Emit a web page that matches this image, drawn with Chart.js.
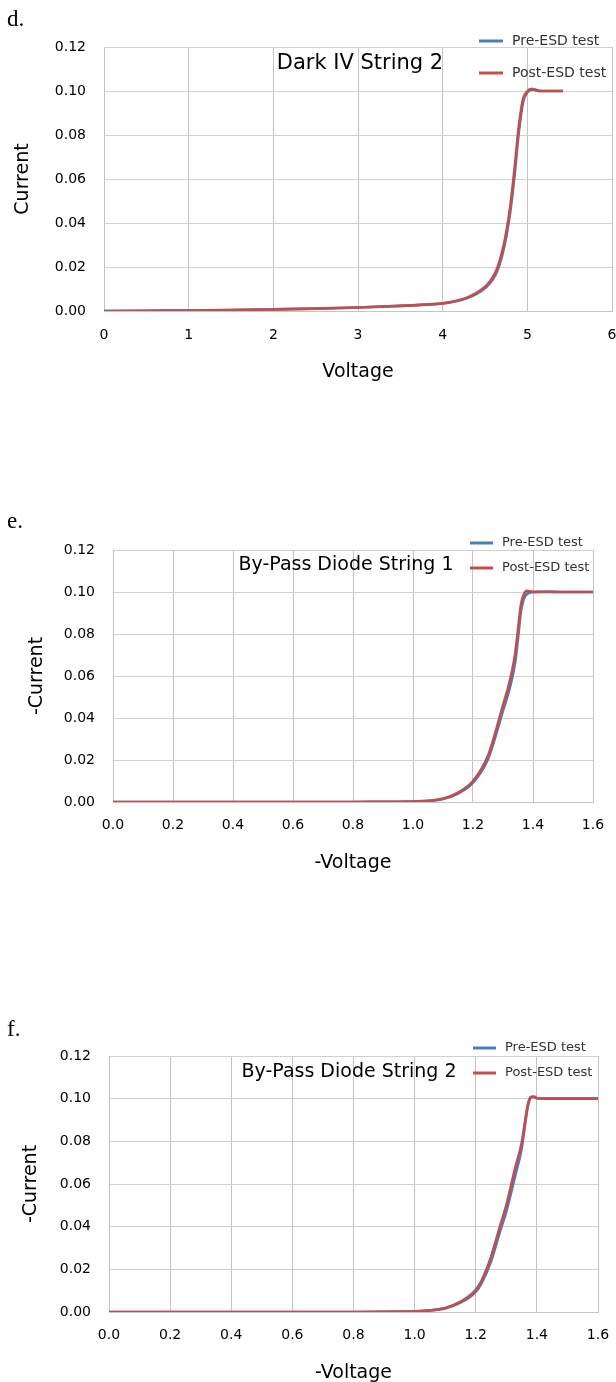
<!DOCTYPE html>
<html>
<head>
<meta charset="utf-8">
<script src="https://cdn.jsdelivr.net/npm/chart.js@4.4.1/dist/chart.umd.min.js"></script>
<style>
  body { margin: 0; background: #fff; width: 616px; height: 1382px; position: relative; overflow: hidden; }
  .panel { position: absolute; left: 0; width: 616px; }
  .tag { position: absolute; left: 7px; font-family: "Liberation Serif", serif; font-size: 23px; line-height: 24px; color: #000; }
  canvas { display: block; }
</style>
</head>
<body>
<div class="panel" style="top:0;height:400px"><canvas id="chartD" width="616" height="400"></canvas></div>
<div class="panel" style="top:500px;height:400px"><canvas id="chartE" width="616" height="400"></canvas></div>
<div class="panel" style="top:1010px;height:372px"><canvas id="chartF" width="616" height="372"></canvas></div>
<div class="tag" style="top:7px">d.</div>
<div class="tag" style="top:509px">e.</div>
<div class="tag" style="top:1017px">f.</div>
<script>
const seriesNames = ['Pre-ESD test', 'Post-ESD test'];
const yTickLabels = ['0.00', '0.02', '0.04', '0.06', '0.08', '0.10', '0.12'];
const xTickLabelsD = ['0', '1', '2', '3', '4', '5', '6'];
const xTickLabelsEF = ['0.0', '0.2', '0.4', '0.6', '0.8', '1.0', '1.2', '1.4', '1.6'];

// d. Dark IV String 2
const voltsD = [0, 0.5, 1, 1.5, 2, 2.5, 3, 3.5, 3.8, 4.0, 4.1, 4.2, 4.3, 4.4, 4.5, 4.55, 4.6, 4.65, 4.7, 4.75, 4.8, 4.85, 4.9, 4.95, 5.0, 5.05, 5.1, 5.15, 5.2, 5.3, 5.42];
const preD = [0, 0.0001, 0.0002, 0.0004, 0.0007, 0.0011, 0.0016, 0.0023, 0.0029, 0.0034, 0.0040, 0.0048, 0.0060, 0.0078, 0.0104, 0.0123, 0.0149, 0.0188, 0.0248, 0.0335, 0.0455, 0.0620, 0.0815, 0.0950, 0.0993, 0.1006, 0.1005, 0.1000, 0.1000, 0.1000, 0.1000];
const postD = [0, 0.0001, 0.0002, 0.0004, 0.0007, 0.0011, 0.0016, 0.0023, 0.0029, 0.0035, 0.0041, 0.0050, 0.0063, 0.0082, 0.0110, 0.0130, 0.0158, 0.0200, 0.0265, 0.0355, 0.0480, 0.0650, 0.0840, 0.0965, 0.0998, 0.1010, 0.1004, 0.1000, 0.1000, 0.1000, 0.1000];

// e. By-Pass Diode String 1
const voltsE = [0, 0.2, 0.4, 0.6, 0.8, 0.9, 1.0, 1.05, 1.1, 1.15, 1.2, 1.25, 1.3, 1.32, 1.34, 1.35, 1.36, 1.37, 1.38, 1.39, 1.4, 1.45, 1.5, 1.6];
const preE = [0, 0, 0, 0, 0, 0.0001, 0.0002, 0.0005, 0.0014, 0.0040, 0.0092, 0.0205, 0.0435, 0.0530, 0.0660, 0.0780, 0.0910, 0.0970, 0.0990, 0.0997, 0.1000, 0.1002, 0.1000, 0.1000];
const postE = [0, 0, 0, 0, 0, 0.0001, 0.0002, 0.0005, 0.0016, 0.0045, 0.0100, 0.0220, 0.0460, 0.0560, 0.0700, 0.0820, 0.0940, 0.0990, 0.1005, 0.1003, 0.1000, 0.1000, 0.1000, 0.1000];

// f. By-Pass Diode String 2
const voltsF = [0, 0.2, 0.4, 0.6, 0.8, 0.9, 1.0, 1.05, 1.1, 1.15, 1.2, 1.22, 1.25, 1.28, 1.3, 1.33, 1.35, 1.36, 1.37, 1.38, 1.39, 1.4, 1.42, 1.5, 1.6];
const preF = [0, 0, 0, 0, 0, 0.0001, 0.0003, 0.0007, 0.0017, 0.0044, 0.0095, 0.0138, 0.0238, 0.0380, 0.0472, 0.0645, 0.0765, 0.0865, 0.0960, 0.1005, 0.1009, 0.1002, 0.1000, 0.1000, 0.1000];
const postF = [0, 0, 0, 0, 0, 0.0001, 0.0003, 0.0008, 0.0019, 0.0048, 0.0104, 0.0150, 0.0258, 0.0405, 0.0500, 0.0680, 0.0790, 0.0880, 0.0970, 0.1008, 0.1010, 0.1002, 0.1000, 0.1000, 0.1000];

const preColor = '#4a7ebb';
const postColor = '#c0504d';
const font = '"DejaVu Sans", sans-serif';

// title and legend are drawn over the plot, like in the original figure
const notesPlugin = {
    id: 'notes',
    afterDraw(chart, args, opts) {
        const ctx = chart.ctx;
        ctx.save();
        ctx.fillStyle = '#000';
        ctx.font = opts.titleSize + 'px ' + font;
        ctx.textAlign = 'center';
        ctx.textBaseline = 'middle';
        ctx.fillText(opts.title, opts.titleX, opts.titleY);
        ctx.font = opts.legendSize + 'px ' + font;
        ctx.textAlign = 'left';
        chart.data.datasets.forEach((ds, i) => {
            const y = opts.legendY[i];
            ctx.strokeStyle = ds.borderColor;
            ctx.lineWidth = 3;
            ctx.beginPath();
            ctx.moveTo(opts.legendX, y);
            ctx.lineTo(opts.legendX + opts.legendLine, y);
            ctx.stroke();
            ctx.fillStyle = '#333';
            ctx.fillText(ds.label, opts.legendX + opts.legendLine + 9, y);
        });
        ctx.restore();
    }
};

function toPoints(xs, ys) {
    return xs.map((x, i) => ({ x: x, y: ys[i] }));
}

function makeChart(id, p) {
    const ctx = document.getElementById(id).getContext('2d');
    const h = ctx.canvas.height;
    const xAxisH = 72;
    return new Chart(ctx, {
        type: 'line',
        data: {
            datasets: [
                // post is drawn on top of pre (lower order = drawn last)
                { label: seriesNames[0], order: 2, data: toPoints(p.volts, p.pre), borderColor: preColor, borderWidth: 2.7, pointRadius: 0, cubicInterpolationMode: 'monotone', fill: false },
                { label: seriesNames[1], order: 1, data: toPoints(p.volts, p.post), borderColor: postColor, borderWidth: 2.7, pointRadius: 0, cubicInterpolationMode: 'monotone', fill: false }
            ]
        },
        options: {
            responsive: false,
            animation: false,
            layout: { padding: { left: 0, top: p.top, right: 616 - p.right, bottom: h - p.bottom - xAxisH } },
            plugins: {
                legend: { display: false },
                tooltip: { enabled: false },
                notes: p.notes
            },
            scales: {
                x: {
                    type: 'linear',
                    min: 0,
                    max: p.xMax,
                    ticks: {
                        stepSize: p.xStep,
                        padding: p.xPad,
                        color: '#000',
                        font: { family: font, size: 14 },
                        maxRotation: 0,
                        callback: (v, i) => p.xLabels[i]
                    },
                    grid: { color: '#c4c4c4', drawTicks: false },
                    border: { color: '#c4c4c4' },
                    title: { display: true, text: p.xTitle, color: '#000', font: { family: font, size: 19 }, padding: 0 },
                    afterFit: (s) => { s.height = xAxisH; s.paddingLeft = 0; s.paddingRight = 0; }
                },
                y: {
                    min: 0,
                    max: 0.12,
                    ticks: {
                        stepSize: 0.02,
                        padding: p.yPad,
                        color: '#000',
                        font: { family: font, size: 14 },
                        callback: (v, i) => yTickLabels[i]
                    },
                    grid: { color: '#d0d0d0', drawTicks: false },
                    border: { color: '#c4c4c4' },
                    title: { display: true, text: p.yTitle, color: '#000', font: { family: font, size: 19 }, padding: { top: p.yTitlePad, bottom: 0 } },
                    afterFit: (s) => { s.width = p.left; s.paddingTop = 0; s.paddingBottom = 0; }
                }
            }
        },
        plugins: [notesPlugin]
    });
}

makeChart('chartD', {
    volts: voltsD, pre: preD, post: postD,
    xMax: 6, xStep: 1, xLabels: xTickLabelsD,
    left: 104, right: 612, top: 47, bottom: 311,
    xPad: 16, yPad: 18, yTitlePad: 12,
    xTitle: 'Voltage', yTitle: 'Current',
    notes: { title: 'Dark IV String 2', titleSize: 21, titleX: 360, titleY: 64,
             legendX: 479, legendLine: 24, legendY: [41, 73], legendSize: 14 }
});

makeChart('chartE', {
    volts: voltsE, pre: preE, post: postE,
    xMax: 1.6, xStep: 0.2, xLabels: xTickLabelsEF,
    left: 113, right: 593, top: 50, bottom: 302,
    xPad: 15, yPad: 18, yTitlePad: 26,
    xTitle: '-Voltage', yTitle: '-Current',
    notes: { title: 'By-Pass Diode String 1', titleSize: 19, titleX: 346, titleY: 65,
             legendX: 470, legendLine: 23, legendY: [43, 68], legendSize: 13 }
});

makeChart('chartF', {
    volts: voltsF, pre: preF, post: postF,
    xMax: 1.6, xStep: 0.2, xLabels: xTickLabelsEF,
    left: 109, right: 598, top: 46, bottom: 302,
    xPad: 15, yPad: 18, yTitlePad: 20,
    xTitle: '-Voltage', yTitle: '-Current',
    notes: { title: 'By-Pass Diode String 2', titleSize: 19, titleX: 349, titleY: 62,
             legendX: 473, legendLine: 23, legendY: [38, 63], legendSize: 13 }
});
</script>
</body>
</html>
